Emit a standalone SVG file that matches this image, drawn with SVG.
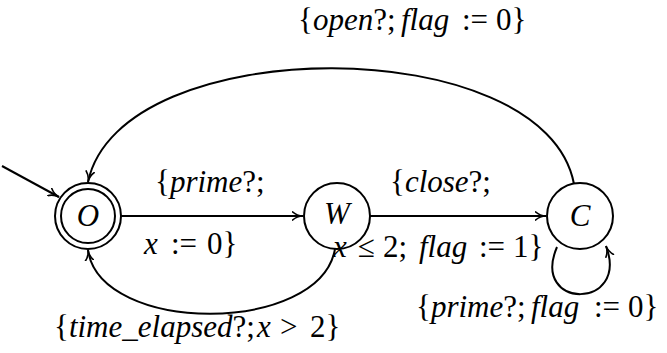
<svg xmlns="http://www.w3.org/2000/svg" width="667" height="353" viewBox="0 0 667 353">
<style>
.n{fill:none;stroke:#000;stroke-width:2}
.e{fill:none;stroke:#000;stroke-width:2}
.t{font-family:'Liberation Serif','Times New Roman',serif;font-size:31px;fill:#000}
.i{font-style:italic}
</style>
<defs>
<marker id="ah" viewBox="0 0 12 10" refX="11" refY="5" markerWidth="12" markerHeight="10" markerUnits="userSpaceOnUse" orient="auto">
<path d="M0,0.5 Q5,5 11,5 Q5,5 0,9.5" fill="none" stroke="#000" stroke-width="1.6"/>
</marker>
</defs>
<g id="O"><circle class="n" cx="88" cy="216" r="33"/><circle class="n" cx="88" cy="216" r="27"/><text class="t i" x="88" y="226" text-anchor="middle">O</text></g>
<g id="W"><circle class="n" cx="337" cy="216" r="33"/><text class="t i" x="337" y="224" text-anchor="middle">W</text></g>
<g id="C"><circle class="n" cx="580" cy="216" r="33"/><text class="t i" x="580" y="226" text-anchor="middle">C</text></g>
<g id="edges">
<path class="e" d="M2,166 L59,197" marker-end="url(#ah)"/>
<path class="e" d="M121,216 L303,216" marker-end="url(#ah)"/>
<path class="e" d="M370,216 L546,216" marker-end="url(#ah)"/>
<path class="e" d="M574,184 C545,30 120,30 88,182" marker-end="url(#ah)"/>
<path class="e" d="M335,249 C320,335 100,335 88,250" marker-end="url(#ah)"/>
<path class="e" d="M557,247 C530,310 630,310 606,246" marker-end="url(#ah)"/>
</g>
<g id="labels">
<text class="t" y="30"><tspan x="298">{<tspan class="i">open</tspan>?;</tspan><tspan class="i" x="401">flag</tspan><tspan x="462">:=</tspan><tspan x="496">0}</tspan></text>
<text class="t" x="155" y="192">{<tspan class="i">prime</tspan>?;</text>
<text class="t" y="254"><tspan class="i" x="144">x</tspan><tspan x="171">:=</tspan><tspan x="207">0}</tspan></text>
<text class="t" x="390" y="192">{<tspan class="i">close</tspan>?;</text>
<text class="t" y="257"><tspan class="i" x="333">x</tspan><tspan x="358">≤</tspan><tspan x="383">2;</tspan><tspan class="i" x="419">flag</tspan><tspan x="479">:=</tspan><tspan x="513">1}</tspan></text>
<text class="t" y="337"><tspan x="54">{<tspan class="i">time_elapsed</tspan>?;</tspan><tspan class="i" x="257">x</tspan><tspan x="280">&gt;</tspan><tspan x="310">2}</tspan></text>
<text class="t" y="317"><tspan x="416">{<tspan class="i">prime</tspan>?;</tspan><tspan class="i" x="531">flag</tspan><tspan x="594">:=</tspan><tspan x="628">0}</tspan></text>
</g>
</svg>
